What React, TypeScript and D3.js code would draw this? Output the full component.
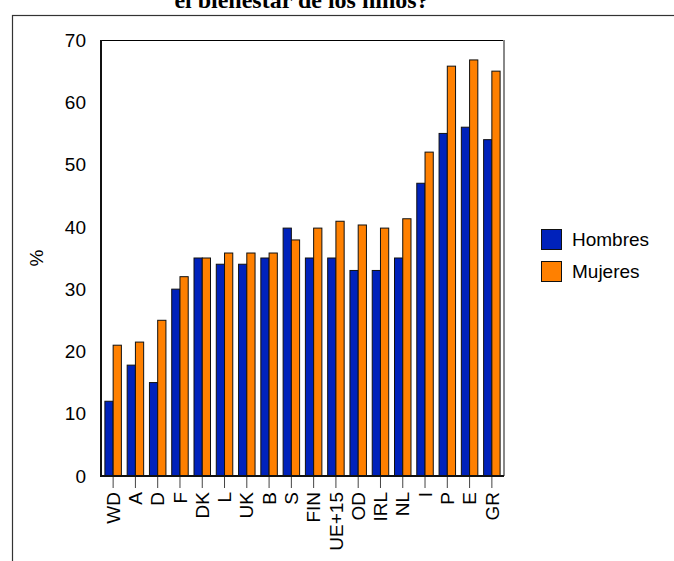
import React from "react";
import * as d3 from "d3";

const categories = ["WD", "A", "D", "F", "DK", "L", "UK", "B", "S", "FIN", "UE+15", "OD", "IRL", "NL", "I", "P", "E", "GR"];
const hombres = [12, 17.8, 15, 30, 35, 34, 34, 35, 39.8, 35, 35, 33, 33, 35, 47, 55, 56, 54];
const mujeres = [21, 21.5, 25, 32, 35, 35.8, 35.8, 35.8, 37.9, 39.8, 40.9, 40.3, 39.8, 41.3, 52, 65.8, 66.8, 65];
const yTicks = [0, 10, 20, 30, 40, 50, 60, 70];
const seriesNames = ["Hombres", "Mujeres"];
const titleText = "el bienestar de los niños?";
const yLabel = "%";

const COLORS = ["#0022BB", "#FF8000"];
const FONT = "'Liberation Sans', Arial, sans-serif";

export default function App() {
  const W = 674, H = 561;
  const x = d3.scaleBand<string>().domain(categories).range([102, 503]).paddingInner(0.26).paddingOuter(0.13);
  const xs = d3.scaleBand<string>().domain(seriesNames).range([0, x.bandwidth()]);
  const y = d3.scaleLinear().domain([0, 70]).range([476, 40]);
  const series = [hombres, mujeres];

  return (
    <svg width={W} height={H} style={{ position: "absolute", left: 0, top: 0, background: "#fff" }}>
      <text x={301.5} y={8} textAnchor="middle" fontFamily="'Liberation Serif', 'Times New Roman', serif" fontWeight="bold" fontSize={24}>{titleText}</text>
      <rect x={12.5} y={15.5} width={700} height={600} fill="none" stroke="#333" strokeWidth={1.2} />
      {/* plot frame */}
      <line x1={101} x2={504} y1={40.5} y2={40.5} stroke="#000" strokeWidth={1} />
      <line x1={504} x2={504} y1={40} y2={476} stroke="#888" strokeWidth={2} />
      {/* bars */}
      {categories.map((c, i) => (
        <g key={c} transform={`translate(${x(c)},0)`}>
          {series.map((s, j) => (
            <rect key={j} x={xs(seriesNames[j])} y={y(s[i])} width={xs.bandwidth()} height={y(0) - y(s[i])}
              fill={COLORS[j]} stroke="#111" strokeWidth={1} />
          ))}
        </g>
      ))}
      {/* axes */}
      <line x1={101} x2={101} y1={40} y2={477} stroke="#111" strokeWidth={2} />
      <line x1={100} x2={504} y1={476} y2={476} stroke="#111" strokeWidth={2} />
      {yTicks.map(t => (
        <text key={t} x={86} y={y(t)} dy="0.35em" textAnchor="end" fontFamily={FONT} fontSize={19}>{t}</text>
      ))}
      <text transform={`translate(43,258) rotate(-90)`} textAnchor="middle" fontFamily={FONT} fontSize={19}>{yLabel}</text>
      {categories.map(c => {
        const cx = (x(c) as number) + x.bandwidth() / 2;
        return (
          <g key={c}>
            <line x1={cx} x2={cx} y1={477} y2={488} stroke="#444" strokeWidth={1} />
            <text transform={`translate(${cx},492) rotate(-90)`} dy="0.35em" textAnchor="end" fontFamily={FONT} fontSize={19}>{c}</text>
          </g>
        );
      })}
      {/* legend */}
      {seriesNames.map((n, j) => (
        <g key={n} transform={`translate(541,${229.5 + j * 32})`}>
          <rect x={0.5} y={0} width={20} height={20} fill={COLORS[j]} stroke="#111" strokeWidth={1} />
          <text x={31} y={10} dy="0.35em" fontFamily={FONT} fontSize={19}>{n}</text>
        </g>
      ))}
    </svg>
  );
}
